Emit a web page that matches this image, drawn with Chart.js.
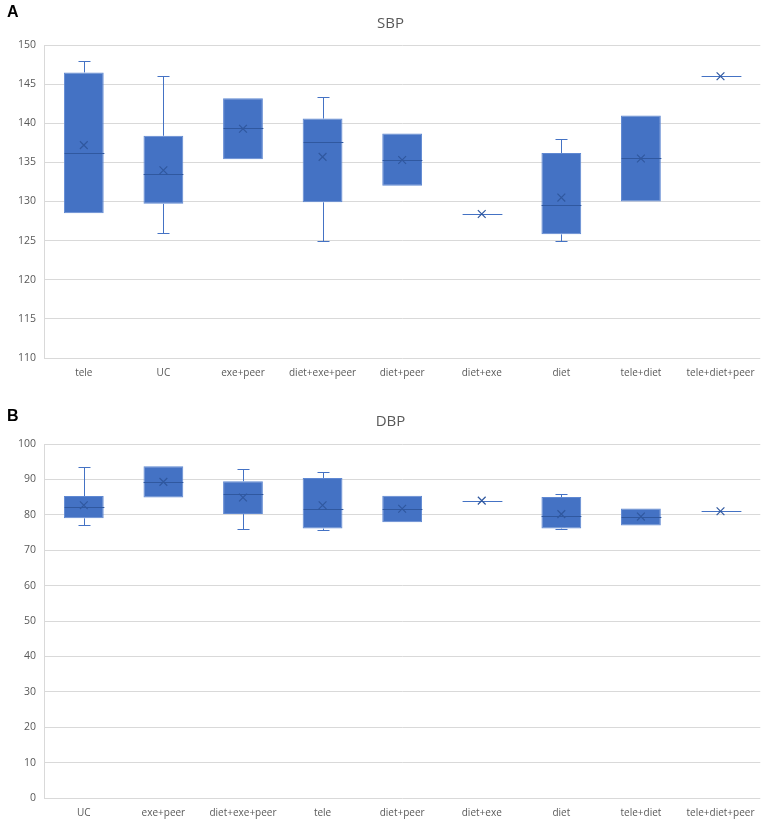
<!DOCTYPE html>
<html lang="en">
  <head>
    <meta charset="UTF-8" />
    <title>SBP / DBP box plots</title>
    <script src="https://cdn.jsdelivr.net/npm/chart.js"></script>
    <style>
      body { margin: 0; background: #fff; font-family: "Open Sans", sans-serif; }
      .panel { position: relative; width: 767px; }
      .tag { position: absolute; left: 7px; font: bold 16px "Liberation Sans", Arial, sans-serif; color: #000; }
    </style>
  </head>
  <body>
    <div class="panel" style="height: 392px">
      <div class="tag" style="top: 3px">A</div>
      <canvas id="sbpChart"></canvas>
    </div>
    <div class="panel" style="height: 429px">
      <div class="tag" style="top: 15px">B</div>
      <canvas id="dbpChart"></canvas>
    </div>

    <script>
      // SBP (panel A)
      const sbpCats = ["tele", "UC", "exe+peer", "diet+exe+peer", "diet+peer", "diet+exe", "diet", "tele+diet", "tele+diet+peer"];
      const sbpMin = [128.5, 126.0, 135.4, 125.0, 132.0, 128.4, 125.0, 130.0, 146.0];
      const sbpQ1 = [128.5, 129.7, 135.4, 129.9, 132.0, 128.4, 125.8, 130.0, 146.0];
      const sbpMedian = [136.2, 133.5, 139.4, 137.6, 135.3, 128.4, 129.5, 135.5, 146.0];
      const sbpQ3 = [146.5, 138.4, 143.2, 140.6, 138.7, 128.4, 136.2, 141.0, 146.0];
      const sbpMax = [148.0, 146.0, 143.2, 143.3, 138.7, 128.4, 138.0, 141.0, 146.0];
      const sbpMean = [137.2, 134.0, 139.3, 135.7, 135.3, 128.4, 130.5, 135.5, 146.0];

      // DBP (panel B)
      const dbpCats = ["UC", "exe+peer", "diet+exe+peer", "tele", "diet+peer", "diet+exe", "diet", "tele+diet", "tele+diet+peer"];
      const dbpMin = [77.0, 84.9, 76.0, 75.8, 77.9, 84.0, 75.9, 77.0, 81.0];
      const dbpQ1 = [79.0, 84.9, 80.2, 76.1, 77.9, 84.0, 76.1, 77.0, 81.0];
      const dbpMedian = [82.1, 89.3, 86.0, 81.7, 81.7, 84.0, 79.6, 79.5, 81.0];
      const dbpQ3 = [85.3, 93.7, 89.5, 90.4, 85.4, 84.0, 85.0, 81.8, 81.0];
      const dbpMax = [93.4, 93.7, 92.8, 92.0, 85.4, 84.0, 85.9, 81.8, 81.0];
      const dbpMean = [82.7, 89.3, 84.9, 82.7, 81.7, 84.0, 80.2, 79.5, 81.0];

      const boxBlue = "#4472C4";
      const darkBlue = "#30589F";
      const textGrey = "#595959";
      const gridGrey = "#D9D9D9";

      // medians and whiskers, drawn right after the boxes
      const whiskerPlugin = {
        id: "whiskers",
        afterDatasetDraw(chart, args) {
          if (args.index !== 1) return;
          const st = chart.options.plugins.whiskers;
          const x = chart.scales.x;
          const y = chart.scales.y;
          const ctx = chart.ctx;
          const step = x.getPixelForValue(1) - x.getPixelForValue(0);
          const half = step * 0.25;
          const cap = 6;
          ctx.save();
          ctx.lineWidth = 1;
          st.median.forEach((m, i) => {
            const cx = Math.round(x.getPixelForValue(i)) + 0.5;
            const flat = st.q1[i] === st.q3[i];
            ctx.strokeStyle = boxBlue;
            ctx.beginPath();
            if (st.max[i] > st.q3[i]) {
              const a = y.getPixelForValue(st.q3[i]);
              const b = Math.round(y.getPixelForValue(st.max[i])) + 0.5;
              ctx.moveTo(cx, a); ctx.lineTo(cx, b);
              ctx.moveTo(cx - cap, b); ctx.lineTo(cx + cap, b);
            }
            if (st.min[i] < st.q1[i]) {
              const a = y.getPixelForValue(st.q1[i]);
              const b = Math.round(y.getPixelForValue(st.min[i])) + 0.5;
              ctx.moveTo(cx, a); ctx.lineTo(cx, b);
              ctx.moveTo(cx - cap, b); ctx.lineTo(cx + cap, b);
            }
            ctx.stroke();
            const my = Math.round(y.getPixelForValue(m)) + 0.5;
            ctx.strokeStyle = flat ? boxBlue : darkBlue;
            ctx.beginPath();
            ctx.moveTo(cx - half, my);
            ctx.lineTo(cx + half, my);
            ctx.stroke();
          });
          ctx.restore();
        },
      };

      function makeBoxChart(id, title, cats, mn, q1, med, q3, mx, mean, yMin, yMax, yStep, pad, titlePad) {
        const boxes = q1.map((v, i) => (v === q3[i] ? null : [v, q3[i]]));
        new Chart(document.getElementById(id), {
          type: "bar",
          data: {
            labels: cats,
            datasets: [
              {
                type: "line",
                label: "mean",
                data: mean,
                showLine: false,
                pointStyle: "crossRot",
                pointRadius: 5.5,
                pointBorderWidth: 1.2,
                borderColor: darkBlue,
                backgroundColor: darkBlue,
                order: 0,
              },
              {
                label: title,
                data: boxes,
                backgroundColor: boxBlue,
                borderColor: "#5F88D2",
                borderWidth: 1,
                borderSkipped: false,
                categoryPercentage: 1,
                barPercentage: 0.5,
                order: 1,
              },
            ],
          },
          options: {
            responsive: true,
            maintainAspectRatio: false,
            animation: false,
            layout: { padding: pad },
            plugins: {
              legend: { display: false },
              tooltip: { enabled: false },
              title: {
                display: true,
                text: title,
                color: textGrey,
                font: { family: "Open Sans", size: 15, weight: "normal" },
                padding: titlePad,
              },
              whiskers: { min: mn, q1: q1, median: med, q3: q3, max: mx },
            },
            scales: {
              x: {
                grid: { display: false, drawTicks: false },
                border: { display: false },
                ticks: { color: textGrey, font: { family: "Open Sans", size: 10 }, maxRotation: 0, autoSkip: false, padding: 9 },
              },
              y: {
                min: yMin,
                max: yMax,
                grid: { color: gridGrey, drawTicks: false },
                border: { display: true, color: gridGrey },
                ticks: { stepSize: yStep, color: textGrey, font: { family: "Open Sans", size: 10.5 }, padding: 8 },
              },
            },
          },
          plugins: [whiskerPlugin],
        });
      }

      makeBoxChart("sbpChart", "SBP", sbpCats, sbpMin, sbpQ1, sbpMedian, sbpQ3, sbpMax, sbpMean,
        110, 150, 5, { left: 10, right: -4, top: 0, bottom: 4 }, { top: 15, bottom: 12 });
      makeBoxChart("dbpChart", "DBP", dbpCats, dbpMin, dbpQ1, dbpMedian, dbpQ3, dbpMax, dbpMean,
        0, 100, 10, { left: 10, right: -4, top: 0, bottom: -7 }, { top: 21, bottom: 13 });
    </script>
  </body>
</html>
